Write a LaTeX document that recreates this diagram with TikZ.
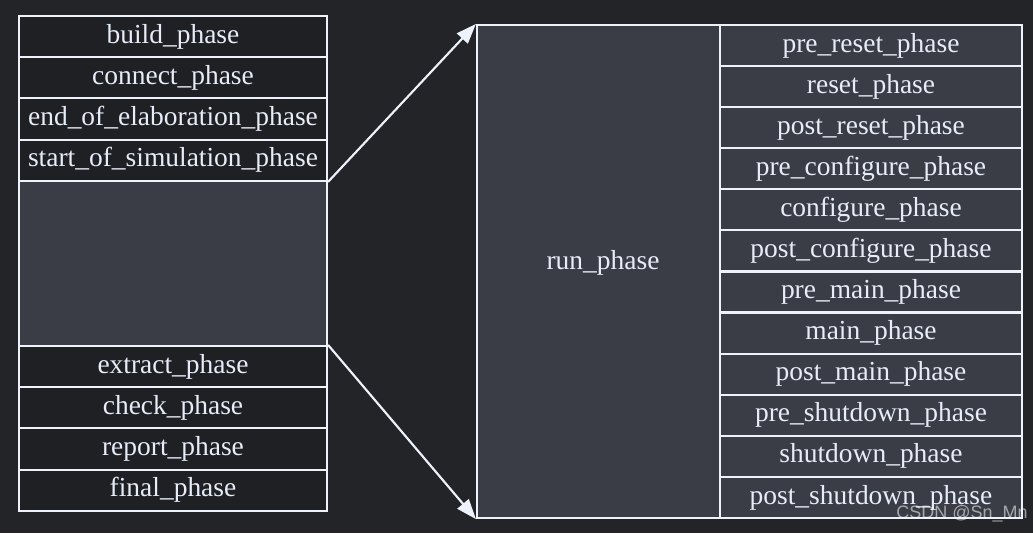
\documentclass[tikz,border=0pt]{standalone}
\usepackage{fontspec}
\setmainfont{Liberation Serif}
\newfontfamily\wmfont{Liberation Sans}
\usetikzlibrary{arrows.meta}
\definecolor{bgc}{HTML}{222428}
\definecolor{darkcell}{HTML}{1F2024}
\definecolor{lightcell}{HTML}{3A3D46}
\definecolor{linec}{HTML}{EEF2FB}
\definecolor{txtc}{HTML}{E6ECF8}
\tikzset{
  cell/.style={draw=linec, line width=1.6pt, inner sep=0pt, text=txtc,
    font=\fontsize{20.6pt}{23pt}\selectfont, anchor=center},
  leftcell/.style={cell, fill=darkcell, minimum width=308*0.75pt, minimum height=41.2*0.75pt},
  rightcell/.style={cell, fill=lightcell, minimum width=302*0.75pt, minimum height=41.08*0.75pt},
  link/.style={draw=linec, line width=1.6pt, -{Triangle[length=15pt,width=11pt]}}
}
\begin{document}
\begin{tikzpicture}[x=0.75pt,y=-0.75pt]
\fill[bgc] (0,0) rectangle (1033,533);
\useasboundingbox (0,0) rectangle (1033,533);
% left column
\node[leftcell] (build) at (173,36.6) {build\_phase};
\node[leftcell] (connect) at (173,77.8) {connect\_phase};
\node[leftcell] (eoe) at (173,119) {end\_of\_elaboration\_phase};
\node[leftcell] (sos) at (173,160.2) {start\_of\_simulation\_phase};
\node[cell, fill=lightcell, minimum width=308*0.75pt, minimum height=165*0.75pt] (runslot) at (173,263.5) {};
\node[leftcell] (extract) at (173,366.6) {extract\_phase};
\node[leftcell] (check) at (173,407.8) {check\_phase};
\node[leftcell] (report) at (173,449) {report\_phase};
\node[leftcell] (final) at (173,490.2) {final\_phase};
% right block
\node[cell, fill=lightcell, minimum width=243*0.75pt, minimum height=493*0.75pt] (run) at (598.5,271.5) {};
\node[text=txtc, font=\fontsize{20.6pt}{23pt}\selectfont] (runlabel) at (603,263) {run\_phase};
\foreach \name [count=\i] in {pre\_reset\_phase, reset\_phase, post\_reset\_phase,
  pre\_configure\_phase, configure\_phase, post\_configure\_phase,
  pre\_main\_phase, main\_phase, post\_main\_phase,
  pre\_shutdown\_phase, shutdown\_phase, post\_shutdown\_phase}{
  \node[rightcell] (r\i) at (871,{25+41.08*(\i-0.5)}) {\name};
}
% connectors
\draw[link] (sos.south east) -- (run.north west);
\draw[link] (extract.north east) -- (run.south west);
% watermark
\node[anchor=east, text=white, opacity=0.55, font=\wmfont\fontsize{13.5pt}{15pt}\selectfont, inner sep=0pt] (wm) at (1028,514) {CSDN @Sn\_Mn};
\end{tikzpicture}
\end{document}
